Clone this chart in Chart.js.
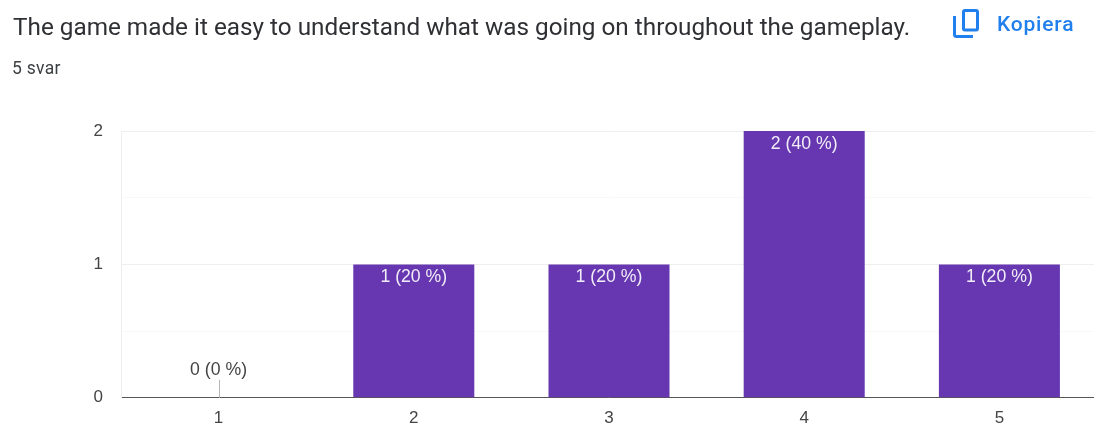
<!DOCTYPE html>
<html>
<head>
<meta charset="utf-8">
<script src="https://cdn.jsdelivr.net/npm/chart.js@4"></script>
<style>
  html, body { margin: 0; padding: 0; background: #fff; overflow: hidden; }
  body { width: 1094px; height: 425px; position: relative; font-family: Roboto, sans-serif; }
  #myChart { position: absolute; left: 0; top: 0; }
  .title { position: absolute; left: 13px; top: 12px; font-size: 24.3px; line-height: 30px; color: #2f3033; white-space: nowrap; }
  .count { position: absolute; left: 12px; top: 58px; font-size: 17.5px; line-height: 20px; letter-spacing: 0.3px; color: #3c4043; white-space: nowrap; }
  .copy { position: absolute; left: 997px; top: 11px; font-size: 21px; line-height: 26px; letter-spacing: 0.8px; font-weight: 500; color: #2280ee; white-space: nowrap; }
  .icon { position: absolute; left: 952px; top: 8px; }
</style>
</head>
<body>
<canvas id="myChart" width="1097" height="426"></canvas>
<div class="title">The game made it easy to understand what was going on throughout the gameplay.</div>
<div class="count">5 svar</div>
<svg class="icon" width="30" height="32" viewBox="0 0 30 32" fill="none" stroke="#2280ee" stroke-width="3">
  <rect x="11.5" y="2.5" width="14" height="19.5" rx="1.5"></rect>
  <path d="M2.5 8 V26.5 a2 2 0 0 0 2 2 H21"></path>
</svg>
<div class="copy">Kopiera</div>
<script>
const categories = ['1', '2', '3', '4', '5'];
const counts = [0, 1, 1, 2, 1];
const barLabels = ['0 (0 %)', '1 (20 %)', '1 (20 %)', '2 (40 %)', '1 (20 %)'];
const yTicks = [0, 0.5, 1, 1.5, 2];

const chartFont = 'Liberation Sans';

// labels inside the bars, plus the little stub google draws for a zero bar
const barLabelPlugin = {
    id: 'barLabels',
    afterDatasetsDraw(chart) {
        const ctx = chart.ctx;
        const meta = chart.getDatasetMeta(0);
        ctx.save();
        ctx.font = '17.7px "' + chartFont + '", sans-serif';
        ctx.textAlign = 'center';
        ctx.textBaseline = 'middle';
        meta.data.forEach((bar, i) => {
            if (counts[i] === 0) {
                ctx.strokeStyle = '#b5b5b5';
                ctx.lineWidth = 1;
                ctx.beginPath();
                ctx.moveTo(Math.round(bar.x) + 0.5, bar.y - 18);
                ctx.lineTo(Math.round(bar.x) + 0.5, bar.y);
                ctx.stroke();
                ctx.fillStyle = '#444';
                ctx.fillText(barLabels[i], bar.x, bar.y - 28);
            } else {
                ctx.fillStyle = '#f1edf8';
                ctx.fillText(barLabels[i], bar.x, bar.y + 13);
            }
        });
        ctx.restore();
    }
};

new Chart(document.getElementById('myChart'), {
    type: 'bar',
    data: {
        labels: categories,
        datasets: [{
            data: counts,
            backgroundColor: '#6637b0',
            barPercentage: 0.62,
            categoryPercentage: 1
        }]
    },
    options: {
        responsive: false,
        animation: false,
        layout: { padding: { top: 131, right: 0, bottom: 0, left: 0 } },
        plugins: { legend: { display: false }, tooltip: { enabled: false } },
        scales: {
            x: {
                afterFit(scale) { scale.height = 26; },
                grid: { display: false, drawTicks: false },
                border: { color: '#555', width: 1 },
                ticks: { color: '#444', font: { family: chartFont, size: 17 }, padding: 10, maxRotation: 0 }
            },
            y: {
                min: 0,
                max: 2,
                afterFit(scale) { scale.width = 121; },
                afterBuildTicks(scale) { scale.ticks = yTicks.map(v => ({ value: v })); },
                grid: {
                    drawTicks: false,
                    color: ctx => (Number.isInteger(ctx.tick.value) ? '#eeeeee' : '#f8f8f8'),
                    lineWidth: 1
                },
                border: { color: '#eeeeee', width: 1 },
                ticks: {
                    color: '#444',
                    font: { family: chartFont, size: 17 },
                    padding: 18,
                    callback: v => (Number.isInteger(v) ? v : '')
                }
            }
        }
    },
    plugins: [barLabelPlugin]
});
</script>
</body>
</html>
